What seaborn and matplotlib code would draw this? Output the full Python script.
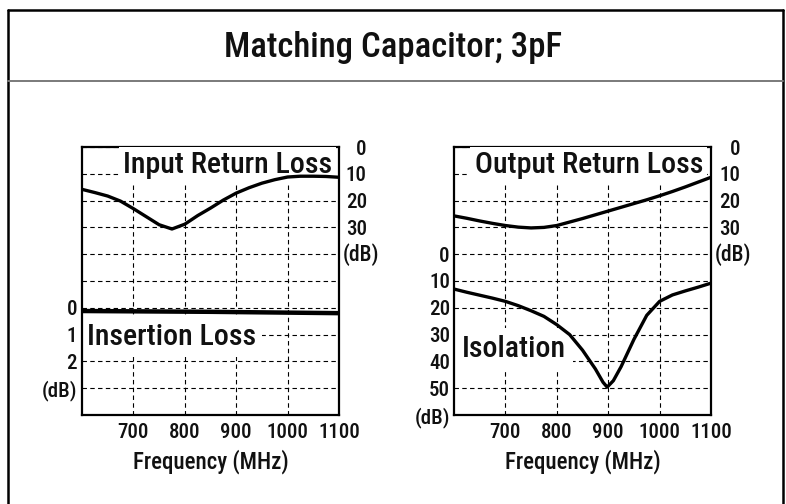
import matplotlib
matplotlib.use("Agg")
import matplotlib.pyplot as plt
import matplotlib.transforms as mtransforms
from matplotlib.lines import Line2D
import seaborn as sns

# Data
freq = [600, 625, 650, 675, 700, 725, 750, 775, 800, 825, 850,
        875, 900, 925, 950, 975, 1000, 1025, 1050, 1075, 1100]
input_return_loss = [15.8, 17.0, 18.3, 20.2, 23.0, 26.0, 29.0, 30.6, 28.8, 25.6, 22.8,
                     19.8, 17.2, 15.2, 13.5, 12.2, 11.2, 10.9, 10.9, 11.0, 11.3]
output_return_loss = [25.7, 26.6, 27.6, 28.5, 29.3, 29.9, 30.2, 30.0, 29.3, 28.0, 26.7,
                      25.3, 23.9, 22.5, 21.1, 19.7, 18.2, 16.6, 14.9, 13.1, 11.3]

freq_iso = [600, 625, 650, 675, 700, 725, 750, 775, 800, 825, 850, 875, 890,
            898, 910, 925, 950, 975, 1000, 1025, 1050, 1075, 1100]
isolation = [13.0, 14.2, 15.3, 16.4, 17.6, 19.2, 21.1, 23.2, 26.3, 30.0, 35.8, 42.8, 47.8,
             49.6, 47.2, 42.0, 31.8, 22.8, 17.6, 15.2, 13.7, 12.3, 10.8]

freq_il = [600, 850, 1100]
insertion_loss = [0.12, 0.15, 0.2]

x_ticks = [700, 800, 900, 1000, 1100]
rl_ticks = [0, 10, 20, 30]

sns.set_theme(style="white")
plt.rcParams['font.family'] = ['Roboto Condensed', 'DejaVu Sans']
plt.rcParams['font.weight'] = 500
plt.rcParams['axes.labelweight'] = 500
plt.rcParams['text.color'] = '#111111'
plt.rcParams['xtick.color'] = '#111111'
plt.rcParams['ytick.color'] = '#111111'
plt.rcParams['axes.labelcolor'] = '#111111'

fig = plt.figure(figsize=(7.86, 5.04), dpi=100)
W, H = 786, 504

def px_axes(x0, y0, x1, y1):
    return fig.add_axes([x0 / W, 1 - y1 / H, (x1 - x0) / W, (y1 - y0) / H])

axL = px_axes(82, 147, 339, 415)
axR = px_axes(454, 147, 711, 415)

tick_font = 15
xlabel_font = 16.5
label_font = 21.5
grid_kw = dict(color='black', linewidth=0.8, linestyle=(0, (4, 3)), zorder=0.5)
box = dict(facecolor='white', edgecolor='none')


def style_panel(ax, ylim, yticks, ylabels, ypad):
    ax.set_xlim(600, 1100)
    ax.set_ylim(*ylim)
    ax.set_xticks(x_ticks)
    ax.set_xticklabels([str(t) for t in x_ticks], fontsize=tick_font)
    ax.set_yticks(yticks)
    ax.set_yticklabels(ylabels, fontsize=tick_font)
    ax.tick_params(axis='both', length=0)
    ax.tick_params(axis='x', pad=6)
    ax.tick_params(axis='y', pad=ypad)
    ax.grid(True, **grid_kw)
    ax.set_axisbelow(True)
    for s in ax.spines.values():
        s.set_visible(True)
        s.set_color('black')
        s.set_linewidth(1.6)


def style_twin(ax2, ypad):
    ax2.set_ylim(100, 0)
    ax2.set_yticks(rl_ticks)
    ax2.set_yticklabels([str(t) for t in rl_ticks], fontsize=tick_font, ha='right')
    ax2.tick_params(axis='y', length=0, pad=ypad)
    ax2.grid(False)
    ax2.set_ylabel('')
    for s in ax2.spines.values():
        s.set_visible(False)
    tr = mtransforms.blended_transform_factory(ax2.transAxes, ax2.transData)
    ax2.text(1.0 + 4 / 257, 40, '(dB)', transform=tr, ha='left', va='center',
             fontsize=tick_font + 0.5)


# ---- left panel: insertion loss (left axis) + input return loss (right axis)
il_ticks = list(range(-6, 5))
il_labels = ['' if t < 0 else str(t) for t in il_ticks]
il_labels[il_ticks.index(3)] = '(dB)'
il_labels[il_ticks.index(4)] = ''
style_panel(axL, (4, -6), il_ticks, il_labels, 3.5)
sns.lineplot(x=freq_il, y=insertion_loss, ax=axL, color='black', linewidth=3.2, zorder=2)
axL.set_xlabel('Frequency (MHz)', fontsize=xlabel_font, labelpad=5)
axL.set_ylabel('')
axL.text((87 - 82) / 257, (415 - 345) / 268, 'Insertion Loss', transform=axL.transAxes,
         ha='left', va='baseline', fontsize=label_font, zorder=1.5, bbox=dict(box, pad=4))

axL2 = axL.twinx()
sns.lineplot(x=freq, y=input_return_loss, ax=axL2, color='black', linewidth=2.4, zorder=4)
style_twin(axL2, 20)
axL2.text((332 - 82) / 257, (415 - 173) / 268, 'Input Return Loss', transform=axL2.transAxes,
          ha='right', va='baseline', fontsize=label_font, zorder=3, bbox=dict(box, pad=3))

# ---- right panel: isolation (left axis) + output return loss (right axis)
iso_ticks = list(range(-40, 61, 10))
iso_labels = ['' if t < 0 else str(t) for t in iso_ticks]
iso_labels[-1] = '(dB)'
style_panel(axR, (60, -40), iso_ticks, iso_labels, 3)
sns.lineplot(x=freq_iso, y=isolation, ax=axR, color='black', linewidth=2.4, zorder=2)
axR.set_xlabel('Frequency (MHz)', fontsize=xlabel_font, labelpad=5)
axR.set_ylabel('')
axR.text((462 - 454) / 257, (415 - 357) / 268, 'Isolation', transform=axR.transAxes,
         ha='left', va='baseline', fontsize=label_font, zorder=1.5, bbox=dict(box, pad=5))

axR2 = axR.twinx()
sns.lineplot(x=freq, y=output_return_loss, ax=axR2, color='black', linewidth=2.4, zorder=4)
style_twin(axR2, 21)
axR2.text((703 - 454) / 257, (415 - 173) / 268, 'Output Return Loss', transform=axR2.transAxes,
          ha='right', va='baseline', fontsize=label_font, zorder=3, bbox=dict(box, pad=3))

# ---- outer frame and title band
frame_kw = dict(color='black', linewidth=1.8, transform=fig.transFigure)
fig.add_artist(Line2D([8 / W, 783 / W], [1 - 10 / H, 1 - 10 / H], **frame_kw))
fig.add_artist(Line2D([8 / W, 8 / W], [1 - 10 / H, -0.01], **frame_kw))
fig.add_artist(Line2D([783 / W, 783 / W], [1 - 10 / H, -0.01], **frame_kw))
fig.add_artist(Line2D([8 / W, 783 / W], [1 - 81 / H, 1 - 81 / H], color='#7a7a7a',
                      linewidth=1.4, transform=fig.transFigure))

fig.text(0.5, 1 - 47 / H, 'Matching Capacitor; 3pF', ha='center', va='center', fontsize=25)

fig.savefig('out.png', dpi=100)
